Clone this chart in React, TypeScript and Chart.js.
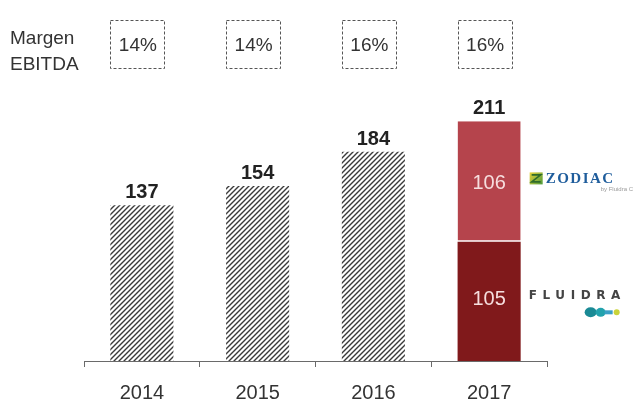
import React, { useEffect, useRef } from "react";
import { Chart, registerables } from "chart.js";

Chart.register(...registerables);

// EBITDA (M€) by year; 2017 split between the two businesses
const years = ["2014", "2015", "2016", "2017"];
const ebitdaHistoric = [137, 154, 184, null];
const ebitdaFluidra = [null, null, null, 105];
const ebitdaZodiac = [null, null, null, 106];
const marginLabels = ["14%", "14%", "16%", "16%"];

const FONT = "'Liberation Sans', Arial, sans-serif";
const ZODIAC_RED = "#B5444C";
const FLUIDRA_RED = "#80191B";

function makeHatch(): CanvasPattern | string {
  const c = document.createElement("canvas");
  const s = 5;
  c.width = s;
  c.height = s;
  const g = c.getContext("2d");
  if (!g) return "#888";
  g.fillStyle = "#ffffff";
  g.fillRect(0, 0, s, s);
  g.strokeStyle = "#3a3a3a";
  g.lineWidth = 1.4;
  g.beginPath();
  g.moveTo(-1, s + 1);
  g.lineTo(s + 1, -1);
  g.moveTo(-1, 1);
  g.lineTo(1, -1);
  g.moveTo(s - 1, s + 1);
  g.lineTo(s + 1, s - 1);
  g.stroke();
  return g.createPattern(c, "repeat") || "#888";
}

const overlayPlugin = {
  id: "overlay",
  afterDatasetsDraw(chart: any) {
    const ctx = chart.ctx as CanvasRenderingContext2D;
    const xs = chart.scales.x;
    const ys = chart.scales.y;

    // width of a bar slot
    let barW = 63;
    chart.data.datasets.forEach((_: any, di: number) => {
      const meta = chart.getDatasetMeta(di);
      meta.data.forEach((el: any) => {
        if (el && isFinite(el.width) && el.width > 0) barW = el.width;
      });
    });

    ctx.save();

    // left caption
    ctx.fillStyle = "#333";
    ctx.font = `19px ${FONT}`;
    ctx.textAlign = "left";
    ctx.textBaseline = "alphabetic";
    ctx.fillText("Margen", 10, 44);
    ctx.fillText("EBITDA", 10, 70);

    years.forEach((_, i) => {
      const cx = xs.getPixelForValue(i);
      const left = cx - barW / 2;

      // dashed margin box
      ctx.setLineDash([3, 2]);
      ctx.strokeStyle = "#555";
      ctx.lineWidth = 1;
      ctx.strokeRect(Math.round(left) + 0.5, 20.5, 54, 48);
      ctx.setLineDash([]);
      ctx.fillStyle = "#333";
      ctx.font = `19px ${FONT}`;
      ctx.textAlign = "center";
      ctx.textBaseline = "middle";
      ctx.fillText(marginLabels[i], left + 27.5, 46);

      // total above bar
      const total =
        (ebitdaHistoric[i] || 0) + (ebitdaFluidra[i] || 0) + (ebitdaZodiac[i] || 0);
      const topY = ys.getPixelForValue(total);
      ctx.fillStyle = "#222";
      ctx.font = `bold 20px ${FONT}`;
      ctx.textBaseline = "alphabetic";
      ctx.fillText(String(total), cx, topY - 7);
    });

    // segment values for 2017
    const i17 = 3;
    const cx17 = xs.getPixelForValue(i17);
    const f = ebitdaFluidra[i17] as number;
    const z = ebitdaZodiac[i17] as number;
    const fMid = ys.getPixelForValue(f / 2);
    const zMid = ys.getPixelForValue(f + z / 2);
    ctx.fillStyle = "#f6dede";
    ctx.font = `20px ${FONT}`;
    ctx.textAlign = "center";
    ctx.textBaseline = "middle";
    ctx.fillText(String(z), cx17, zMid + 2);
    ctx.fillText(String(f), cx17, fMid - 2);

    // brand marks beside the 2017 segments
    const rx = cx17 + barW / 2;

    // Zodiac
    const zy = zMid - 3;
    const ix = rx + 9;
    const grad = ctx.createLinearGradient(ix, zy - 6, ix + 13, zy + 6);
    grad.addColorStop(0, "#e8d23a");
    grad.addColorStop(1, "#4c9a3a");
    ctx.fillStyle = grad;
    ctx.fillRect(ix, zy - 6, 13, 12);
    ctx.strokeStyle = "#2f6b2a";
    ctx.lineWidth = 1.6;
    ctx.beginPath();
    ctx.moveTo(ix + 2, zy - 3.5);
    ctx.lineTo(ix + 11, zy - 3.5);
    ctx.lineTo(ix + 2, zy + 3.5);
    ctx.lineTo(ix + 11, zy + 3.5);
    ctx.stroke();
    ctx.fillStyle = "#1f5d9c";
    ctx.font = `bold 15px 'Liberation Serif', 'DejaVu Serif', serif`;
    ctx.textAlign = "left";
    ctx.textBaseline = "middle";
    (ctx as any).letterSpacing = "1.5px";
    ctx.fillText("ZODIAC", ix + 16, zy + 1);
    (ctx as any).letterSpacing = "0px";
    ctx.fillStyle = "#9a9a9a";
    ctx.font = `6px ${FONT}`;
    ctx.fillText("by Fluidra Co", rx + 80, zy + 11);

    // Fluidra
    const fy = fMid - 5;
    ctx.fillStyle = "#444";
    ctx.font = `bold 12px 'DejaVu Sans', sans-serif`;
    (ctx as any).letterSpacing = "5.6px";
    ctx.textAlign = "left";
    ctx.fillText("FLUIDRA", rx + 8, fy);
    (ctx as any).letterSpacing = "0px";
    const by = fy + 16;
    ctx.fillStyle = "#1a8a95";
    ctx.beginPath();
    ctx.ellipse(rx + 70, by, 6, 5, 0, 0, Math.PI * 2);
    ctx.fill();
    ctx.fillStyle = "#22a2ad";
    ctx.beginPath();
    ctx.ellipse(rx + 80, by, 5, 4.5, 0, 0, Math.PI * 2);
    ctx.fill();
    ctx.fillStyle = "#3a9fc6";
    ctx.fillRect(rx + 84, by - 2, 8, 4);
    ctx.fillStyle = "#c9d33a";
    ctx.beginPath();
    ctx.arc(rx + 96, by, 3, 0, Math.PI * 2);
    ctx.fill();

    ctx.restore();
  },
};

export default function App() {
  const ref = useRef<HTMLCanvasElement | null>(null);

  useEffect(() => {
    if (!ref.current) return;
    const hatch = makeHatch();
    const chart = new Chart(ref.current, {
      type: "bar",
      data: {
        labels: years,
        datasets: [
          {
            label: "EBITDA",
            data: ebitdaHistoric,
            backgroundColor: hatch as any,
            borderWidth: 0,
          },
          {
            label: "Fluidra",
            data: ebitdaFluidra,
            backgroundColor: FLUIDRA_RED,
            borderWidth: 0,
          },
          {
            label: "Zodiac",
            data: ebitdaZodiac,
            backgroundColor: ZODIAC_RED,
            borderColor: "#ffffff",
            borderWidth: { top: 0, left: 0, right: 0, bottom: 1.5 } as any,
            borderSkipped: false,
          },
        ],
      },
      options: {
        animation: false,
        responsive: false,
        maintainAspectRatio: false,
        layout: { padding: { left: 84, right: 86, top: 95, bottom: 0 } },
        datasets: { bar: { barPercentage: 0.545, categoryPercentage: 1 } },
        plugins: {
          legend: { display: false },
          tooltip: { enabled: false },
        },
        scales: {
          x: {
            stacked: true,
            afterFit(scale: any) {
              scale.height = 42;
            },
            grid: {
              offset: true,
              drawOnChartArea: false,
              drawTicks: true,
              tickLength: 6,
              color: "#6a6a6a",
            },
            border: { display: true, color: "#6a6a6a", width: 1 },
            ticks: {
              color: "#333",
              font: { family: FONT, size: 20, lineHeight: 1.0 },
              padding: 16,
            },
          },
          y: {
            stacked: true,
            display: false,
            min: 0,
            max: 234,
          },
        },
      },
      plugins: [overlayPlugin],
    });
    return () => chart.destroy();
  }, []);

  return (
    <div style={{ position: "fixed", left: 0, top: 0, width: 633, height: 403, background: "#fff" }}>
      <canvas ref={ref} width={633} height={403} style={{ display: "block" }} />
    </div>
  );
}
